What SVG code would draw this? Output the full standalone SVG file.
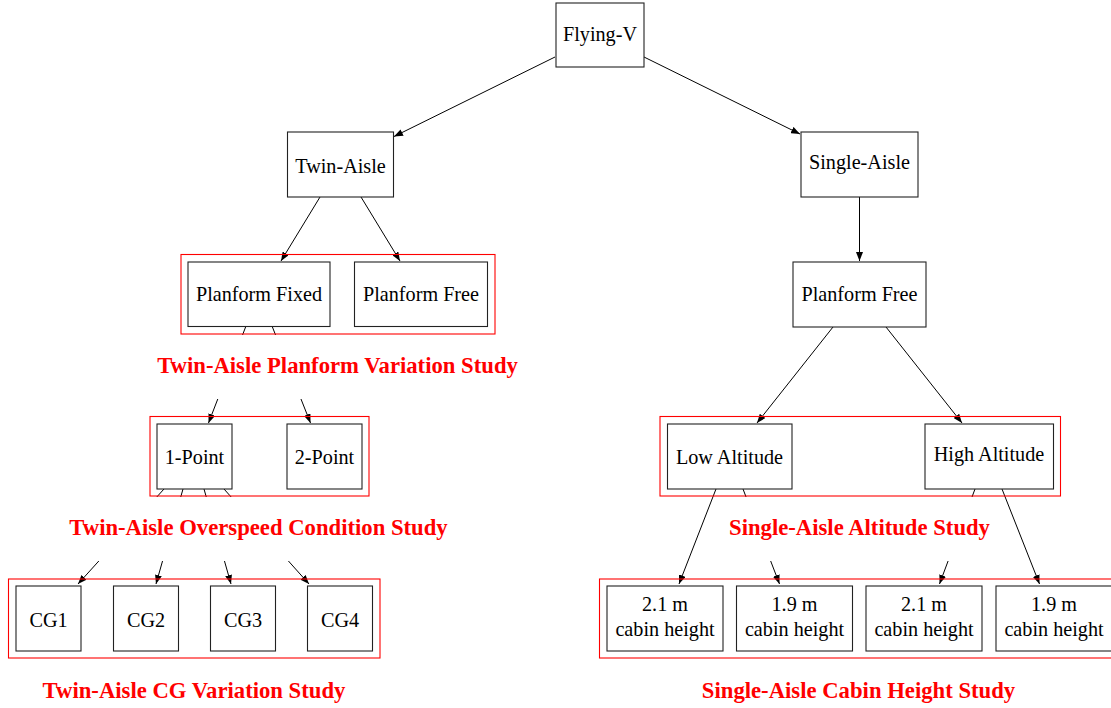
<svg xmlns="http://www.w3.org/2000/svg" width="1111" height="708" viewBox="0 0 1111 708">
<style>
.box{fill:#fff;stroke:#222;stroke-width:1.1}
.grp{fill:none;stroke:#f00;stroke-width:1.1}
.t{font-family:"Liberation Serif","Times New Roman",serif;font-size:20.2px;fill:#000;text-anchor:middle}
.lbl{font-family:"Liberation Serif","Times New Roman",serif;font-size:22.7px;font-weight:bold;fill:#f00;text-anchor:middle}
.e{stroke:#000;stroke-width:1;fill:none;marker-end:url(#ah)}
.bg{fill:#fff;stroke:none}
</style>
<defs>
<marker id="ah" markerUnits="userSpaceOnUse" markerWidth="10" markerHeight="7" refX="9" refY="3.5" orient="auto" viewBox="0 0 10 7">
<path d="M0,0 L9,3.5 L0,7 z" fill="#000"/>
</marker>
</defs>
<rect width="1111" height="708" fill="#fff"/>

<g id="connectors-hidden">
<line class="e" x1="246" y1="326" x2="208.5" y2="423"/>
<line class="e" x1="272" y1="326" x2="310.5" y2="423"/>
<line class="e" x1="164" y1="489" x2="78" y2="584"/>
<line class="e" x1="183" y1="489" x2="156" y2="584"/>
<line class="e" x1="204" y1="489" x2="231" y2="584"/>
<line class="e" x1="224" y1="489" x2="309" y2="584"/>
<line class="e" x1="743" y1="489" x2="779.5" y2="584"/>
<line class="e" x1="975" y1="489" x2="939.5" y2="584"/>
</g>

<g id="label-backgrounds">
<rect class="bg" x="157" y="335" width="361" height="64"/>
<rect class="bg" x="70" y="497" width="377" height="64"/>
<rect class="bg" x="728" y="497" width="263" height="64"/>
</g>

<g id="connectors">
<line class="e" x1="555" y1="57" x2="394" y2="136.5"/>
<line class="e" x1="644" y1="57" x2="800" y2="134"/>
<line class="e" x1="320" y1="197" x2="281" y2="261"/>
<line class="e" x1="361" y1="197" x2="400" y2="261"/>
<line class="e" x1="859.5" y1="197" x2="859.5" y2="261"/>
<line class="e" x1="833" y1="327" x2="757" y2="423"/>
<line class="e" x1="886" y1="327" x2="962" y2="423"/>
<line class="e" x1="716" y1="489" x2="679" y2="584"/>
<line class="e" x1="1002" y1="489" x2="1039.5" y2="584"/>
</g>

<g id="study-planform">
<rect class="grp" x="181" y="254.5" width="314" height="79.5"/>
<text class="lbl" x="337.5" y="372.5">Twin-Aisle Planform Variation Study</text>
</g>
<g id="study-overspeed">
<rect class="grp" x="150" y="416.5" width="219" height="79.5"/>
<text class="lbl" x="258.5" y="534.5">Twin-Aisle Overspeed Condition Study</text>
</g>
<g id="study-cg">
<rect class="grp" x="8.5" y="579" width="371.5" height="79"/>
<text class="lbl" x="194" y="698">Twin-Aisle CG Variation Study</text>
</g>
<g id="study-altitude">
<rect class="grp" x="660" y="416.5" width="400.5" height="79.5"/>
<text class="lbl" x="859.5" y="534.5">Single-Aisle Altitude Study</text>
</g>
<g id="study-cabin">
<rect class="grp" x="599.5" y="579" width="520" height="79"/>
<text class="lbl" x="858.5" y="698">Single-Aisle Cabin Height Study</text>
</g>

<g id="flying-v"><rect class="box" x="556" y="3" width="88" height="64"/><text class="t" x="600" y="40.5">Flying-V</text></g>
<g id="twin-aisle"><rect class="box" x="287.5" y="132" width="106" height="65"/><text class="t" x="340.5" y="172.5">Twin-Aisle</text></g>
<g id="single-aisle"><rect class="box" x="801" y="132" width="117" height="65"/><text class="t" x="859.5" y="169">Single-Aisle</text></g>
<g id="ta-planform-fixed"><rect class="box" x="188" y="262" width="142" height="64.5"/><text class="t" x="259" y="301">Planform Fixed</text></g>
<g id="ta-planform-free"><rect class="box" x="354.5" y="262" width="133" height="64.5"/><text class="t" x="421" y="301">Planform Free</text></g>
<g id="sa-planform-free"><rect class="box" x="793" y="262" width="133" height="65"/><text class="t" x="859.5" y="301">Planform Free</text></g>
<g id="one-point"><rect class="box" x="157" y="424" width="75" height="65"/><text class="t" x="194.5" y="464">1-Point</text></g>
<g id="two-point"><rect class="box" x="287" y="424" width="75" height="65"/><text class="t" x="324.5" y="464">2-Point</text></g>
<g id="low-altitude"><rect class="box" x="667.5" y="424" width="124.5" height="65"/><text class="t" x="729.5" y="463.5">Low Altitude</text></g>
<g id="high-altitude"><rect class="box" x="925" y="424" width="128.5" height="65"/><text class="t" x="989" y="461">High Altitude</text></g>
<g id="cg1"><rect class="box" x="16" y="586" width="65" height="65"/><text class="t" x="48.5" y="626.5">CG1</text></g>
<g id="cg2"><rect class="box" x="113.5" y="586" width="65" height="65"/><text class="t" x="146" y="626.5">CG2</text></g>
<g id="cg3"><rect class="box" x="210.5" y="586" width="65" height="65"/><text class="t" x="243" y="626.5">CG3</text></g>
<g id="cg4"><rect class="box" x="307.5" y="586" width="65" height="65"/><text class="t" x="340" y="626.5">CG4</text></g>
<g id="cabin-lo-21"><rect class="box" x="607" y="586" width="116" height="65"/><text class="t" x="665" y="611">2.1 m</text><text class="t" x="665" y="636">cabin height</text></g>
<g id="cabin-lo-19"><rect class="box" x="736.5" y="586" width="116" height="65"/><text class="t" x="794.5" y="611">1.9 m</text><text class="t" x="794.5" y="636">cabin height</text></g>
<g id="cabin-hi-21"><rect class="box" x="866" y="586" width="116" height="65"/><text class="t" x="924" y="611">2.1 m</text><text class="t" x="924" y="636">cabin height</text></g>
<g id="cabin-hi-19"><rect class="box" x="996" y="586" width="116" height="65"/><text class="t" x="1054" y="611">1.9 m</text><text class="t" x="1054" y="636">cabin height</text></g>
</svg>
